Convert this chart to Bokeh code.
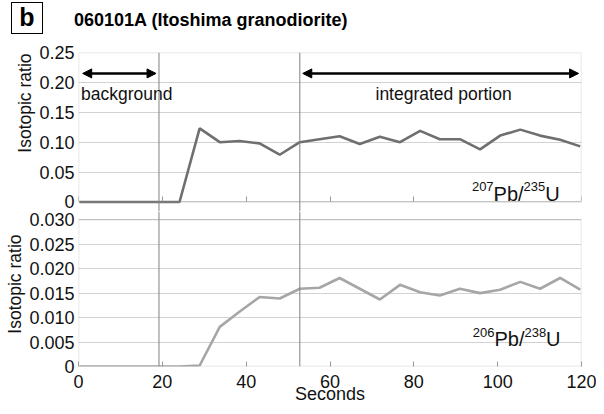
from bokeh.plotting import figure
from bokeh.layouts import column
from bokeh.models import (Range1d, FixedTicker, Label, Span, Arrow, NormalHead,
                          BoxAnnotation, ColumnDataSource, Title, CustomJSTickFormatter, Div)
from bokeh.embed import file_html
from bokeh.resources import INLINE

# ---------------- data ----------------
seconds = [0.2, 5.0, 9.7, 14.5, 19.3, 24.1, 28.9, 33.7, 38.4, 43.2, 48.0, 52.8, 57.5,
           62.3, 67.1, 71.9, 76.7, 81.5, 86.2, 91.0, 95.8, 100.6, 105.4, 110.1, 114.9, 119.7]
pb207_u235 = [0, 0, 0, 0, 0, 0, 0.123, 0.100, 0.102, 0.098, 0.079, 0.100, 0.105,
              0.110, 0.097, 0.109, 0.100, 0.119, 0.105, 0.105, 0.088, 0.111, 0.121,
              0.111, 0.104, 0.093]
pb206_u238 = [0, 0, 0, 0, 0, 0, 0.0002, 0.0081, 0.0112, 0.0142, 0.0139, 0.0159, 0.0161,
              0.0181, 0.0159, 0.0137, 0.0167, 0.0152, 0.0145, 0.0159, 0.0150, 0.0157,
              0.0173, 0.0159, 0.0181, 0.0157]
x_ticks = [0, 20, 40, 60, 80, 100, 120]
top_ticks = [0, 0.05, 0.10, 0.15, 0.20, 0.25]
bottom_ticks = [0, 0.005, 0.010, 0.015, 0.020, 0.025, 0.030]
window_marks = [19.2, 52.8]          # background end / integration start
background_span = (1.0, 18.5)
integrated_span = (53.5, 119.3)
panel_letter = "b"
title_text = "060101A (Itoshima granodiorite)"

FONT = "Liberation Sans"
GRID = "#d2d2d2"
FRAME = "#9a9a9a"
TXT = "#111111"
W = 596

src = ColumnDataSource(dict(t=seconds, a=pb207_u235, b=pb206_u238))


def base_fig(height, y_range, ticks, mb_top, mb_bottom):
    p = figure(width=W, height=height, x_range=Range1d(0, 120), y_range=y_range,
               output_backend="svg", toolbar_location=None,
               min_border_left=74, min_border_right=15,
               min_border_top=mb_top, min_border_bottom=mb_bottom)
    p.outline_line_color = None
    p.background_fill_color = "white"
    p.border_fill_color = "white"
    p.xgrid.visible = False
    p.ygrid.grid_line_color = GRID
    p.ygrid.grid_line_width = 1
    p.ygrid.ticker = FixedTicker(ticks=ticks)
    ya = p.yaxis[0]
    ya.ticker = FixedTicker(ticks=ticks)
    ya.axis_line_color = None
    ya.major_tick_in = 0
    ya.major_tick_out = 0
    ya.minor_tick_in = 0
    ya.minor_tick_out = 0
    ya.major_label_standoff = 4
    ya.major_label_text_font = FONT
    ya.major_label_text_font_size = "18px"
    ya.major_label_text_color = TXT
    xa = p.xaxis[0]
    xa.ticker = FixedTicker(ticks=x_ticks)
    xa.axis_line_color = None
    xa.major_tick_in = 5
    xa.major_tick_out = 0
    xa.minor_tick_in = 0
    xa.minor_tick_out = 0
    xa.major_tick_line_color = FRAME
    xa.major_label_text_font = FONT
    xa.major_label_text_font_size = "18px"
    xa.major_label_text_color = TXT
    for m in window_marks:
        p.add_layout(Span(location=m, dimension="height", line_color="#808080", line_width=1))
    return p


def y_title(p, offset):
    p.add_layout(Title(text="Isotopic ratio", align="right", offset=offset,
                       text_font=FONT, text_font_size="17.5px", text_font_style="normal",
                       text_color=TXT, standoff=4), "left")


# ---------------- header (panel letter + title) ----------------
hdr = Div(width=W, height=40, margin=0, text=(
    '<div style="position:relative;width:596px;height:40px;font-family:\'Liberation Sans\';color:#000;">'
    '<div style="position:absolute;left:11px;top:2px;width:32px;height:32px;box-sizing:border-box;'
    'border:1.5px solid #000;font-weight:bold;font-size:25px;line-height:29px;text-align:center;">'
    + panel_letter + '</div>'
    '<div style="position:absolute;left:74px;top:11px;font-weight:bold;font-size:18px;'
    'line-height:18px;white-space:nowrap;">' + title_text + '</div></div>'))

# ---------------- top panel ----------------
top_scale = 149.0 / 0.25
p1 = base_fig(171, Range1d(-9.5 / top_scale, 0.25), top_ticks, 12, 0)
p1.yaxis[0].major_label_overrides = {0: "0", 0.05: "0.05", 0.1: "0.10", 0.15: "0.15",
                                     0.2: "0.20", 0.25: "0.25"}
p1.xaxis[0].fixed_location = 0
p1.xaxis[0].formatter = CustomJSTickFormatter(code="return ''")
p1.xaxis[0].major_label_standoff = 0
y_title(p1, 1)
p1.add_layout(BoxAnnotation(left=0, right=120, bottom=0, top=0.25, fill_alpha=0,
                            line_color=FRAME, line_width=1.5))
p1.line("t", "a", source=src, line_color="#6f6f6f", line_width=2.6)

arrow_y = 0.215
for s, e in (background_span, integrated_span):
    p1.add_layout(Arrow(x_start=s, y_start=arrow_y, x_end=e, y_end=arrow_y,
                        line_color="black", line_width=2.5,
                        start=NormalHead(size=9, fill_color="black", line_color="black"),
                        end=NormalHead(size=9, fill_color="black", line_color="black")))
p1.add_layout(Label(x=0.6, y=0.18, text="background", text_font=FONT,
                    text_font_size="17.5px", text_baseline="middle", text_align="left",
                    text_color=TXT))
p1.add_layout(Label(x=87.1, y=0.18, text="integrated portion", text_font=FONT,
                    text_font_size="17.5px", text_baseline="middle", text_align="center",
                    text_color=TXT))


def iso_label(p, xr, y_main, y_sup, mass_pb, mass_u):
    p.add_layout(Label(x=xr, y=y_main, text="U", text_font=FONT, text_font_size="20px",
                       text_align="right", text_baseline="alphabetic", text_color=TXT))
    p.add_layout(Label(x=xr, y=y_sup, x_offset=-14.4, text=mass_u, text_font=FONT,
                       text_font_size="13px", text_align="right", text_baseline="alphabetic",
                       text_color=TXT))
    p.add_layout(Label(x=xr, y=y_main, x_offset=-36.1, text="Pb/", text_font=FONT,
                       text_font_size="20px", text_align="right", text_baseline="alphabetic",
                       text_color=TXT))
    p.add_layout(Label(x=xr, y=y_sup, x_offset=-66.1, text=mass_pb, text_font=FONT,
                       text_font_size="13px", text_align="right", text_baseline="alphabetic",
                       text_color=TXT))


iso_label(p1, 114.8, 0.0137, 0.0259, "207", "235")

# ---------------- bottom panel ----------------
bot_scale = 150.5 / 0.03
p2 = base_fig(195, Range1d(0, 0.03 + 8.5 / bot_scale), bottom_ticks, 0, 36)
p2.yaxis[0].major_label_overrides = {0: "0", 0.005: "0.005", 0.01: "0.010", 0.015: "0.015",
                                     0.02: "0.020", 0.025: "0.025", 0.03: "0.030"}
p2.xaxis[0].major_label_standoff = 8
p2.xaxis[0].axis_label = "Seconds"
p2.xaxis[0].axis_label_standoff = -7
p2.xaxis[0].axis_label_text_font = FONT
p2.xaxis[0].axis_label_text_font_size = "18px"
p2.xaxis[0].axis_label_text_font_style = "normal"
p2.xaxis[0].axis_label_text_color = TXT
y_title(p2, 23)
p2.add_layout(BoxAnnotation(left=0, right=120, bottom=0, top=0.03, fill_alpha=0,
                            line_color=FRAME, line_width=1.5))
p2.line("t", "b", source=src, line_color="#a6a6a6", line_width=2.6)
iso_label(p2, 115.0, 0.0056, 0.00704, "206", "238")

layout = column(hdr, p1, p2, spacing=0)
open("out.html", "w").write(file_html(layout, INLINE))
